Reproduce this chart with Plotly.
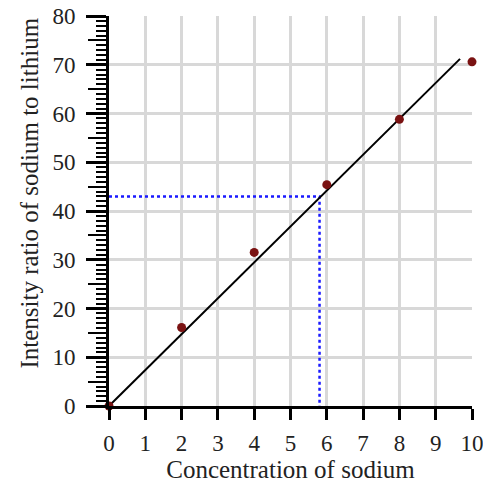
import plotly.graph_objects as go

# Data
conc = [0, 2, 4, 6, 8, 10]
ratio = [0, 16.1, 31.5, 45.4, 58.8, 70.6]
fit_x = [0, 9.67]
fit_y = [0, 71.2]
guide_x = [0, 5.8, 5.8]
guide_y = [43, 43, 0]
x_ticks = list(range(0, 11))
y_ticks = list(range(0, 81, 10))
y_mid_ticks = list(range(5, 80, 10))

font_family = "Liberation Serif"

fig = go.Figure()
fig.add_trace(go.Scatter(x=guide_x, y=guide_y, mode="lines",
                         line=dict(color="#1a1aff", width=2.5, dash="dot"),
                         hoverinfo="skip", showlegend=False))
fig.add_trace(go.Scatter(x=fit_x, y=fit_y, mode="lines",
                         line=dict(color="black", width=2),
                         showlegend=False))
fig.add_trace(go.Scatter(x=conc, y=ratio, mode="markers",
                         marker=dict(color="#7a1212", size=9),
                         cliponaxis=False, showlegend=False))
# invisible trace on overlay axis to activate it
fig.add_trace(go.Scatter(x=[0], y=[0], yaxis="y2", mode="markers",
                         marker=dict(opacity=0), hoverinfo="skip", showlegend=False))

fig.update_layout(
    width=483, height=487,
    margin=dict(l=109, r=11, t=16, b=81),
    paper_bgcolor="white", plot_bgcolor="white",
    font=dict(family=font_family, size=22, color="#222"),
    xaxis=dict(
        range=[0, 10], tickvals=x_ticks, ticks="outside", ticklen=11, tickwidth=3,
        tickcolor="black", showline=True, linecolor="black", linewidth=3,
        showgrid=True, gridcolor="#d8d8d8", gridwidth=3, zeroline=False,
        automargin=False, ticklabelstandoff=3, ticklabeloverflow="allow",
        title=dict(text="Concentration of sodium", font=dict(size=25), standoff=6),
        tickfont=dict(size=23),
    ),
    yaxis=dict(
        range=[0, 80], tickvals=y_ticks, ticks="outside", ticklen=20, tickwidth=3,
        tickcolor="black", showline=True, linecolor="black", linewidth=3,
        showgrid=True, gridcolor="#d8d8d8", gridwidth=3, zeroline=False,
        automargin=False, ticklabelstandoff=6, ticklabeloverflow="allow",
        minor=dict(dtick=1, ticks="outside", ticklen=10, tickwidth=2, tickcolor="black"),
        tickfont=dict(size=23),
    ),
    yaxis2=dict(
        range=[0, 80], overlaying="y", side="left", anchor="x",
        tickvals=y_mid_ticks, ticks="outside", ticklen=20, tickwidth=2,
        tickcolor="black", showticklabels=False, showgrid=False, zeroline=False,
        showline=False, automargin=False,
    ),
    annotations=[dict(
        text="Intensity ratio of sodium to lithium", textangle=-90,
        xref="paper", yref="paper", x=-0.22, y=0.545, xanchor="center", yanchor="middle",
        showarrow=False, font=dict(size=25, family=font_family, color="#222"),
    )],
)

fig.write_html("out.html")
